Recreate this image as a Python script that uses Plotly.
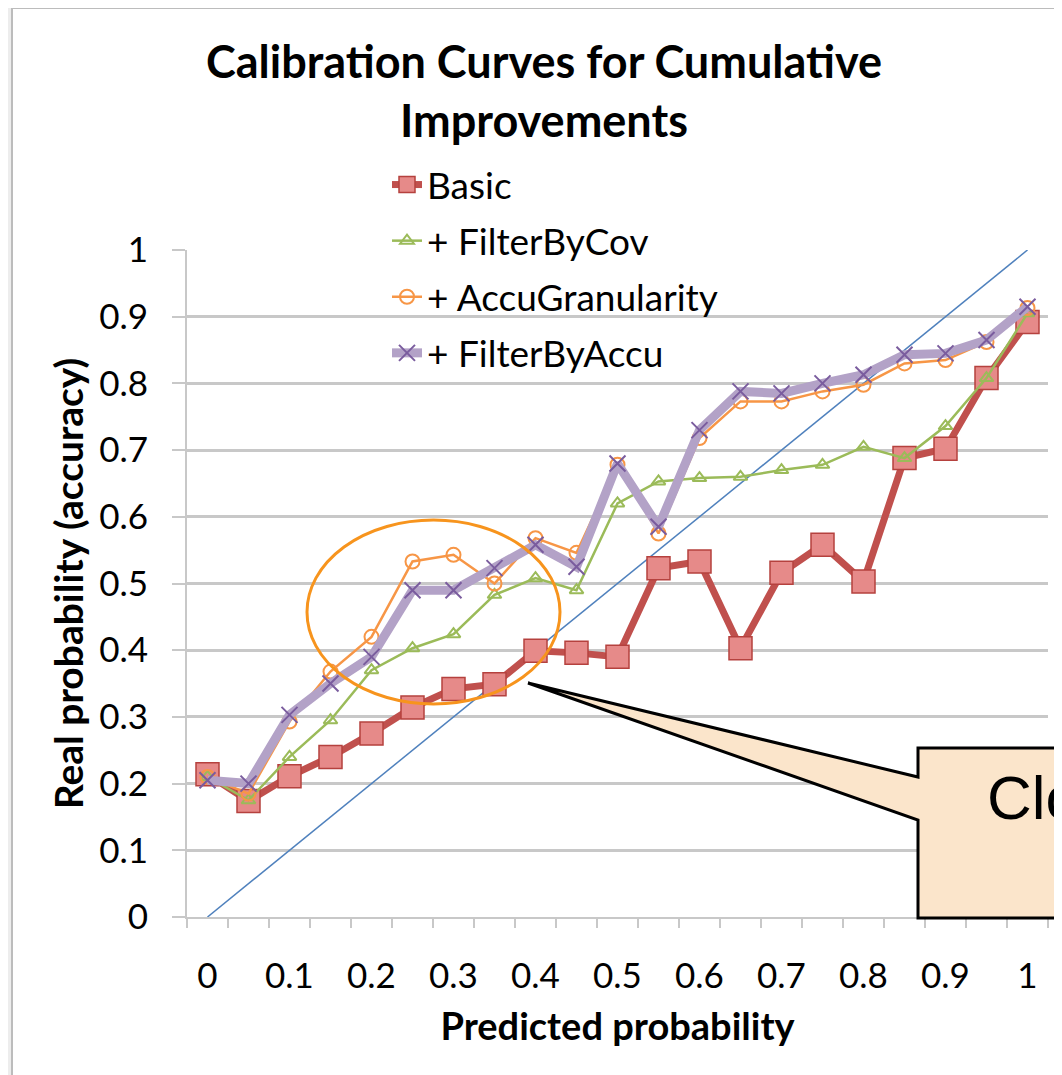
import plotly.graph_objects as go

# ── Data ────────────────────────────────────────────────────────────────────
predicted = [0.0, 0.05, 0.1, 0.15, 0.2, 0.25, 0.3, 0.35, 0.4, 0.45, 0.5,
             0.55, 0.6, 0.65, 0.7, 0.75, 0.8, 0.85, 0.9, 0.95, 1.0]

basic = [0.214, 0.174, 0.211, 0.240, 0.275, 0.314, 0.342, 0.349, 0.399, 0.396, 0.390,
         0.523, 0.533, 0.403, 0.516, 0.558, 0.503, 0.688, 0.702, 0.808, 0.892]
filter_by_cov = [0.21, 0.175, 0.240, 0.295, 0.370, 0.403, 0.424, 0.483, 0.508, 0.490, 0.620,
                 0.653, 0.658, 0.660, 0.670, 0.678, 0.705, 0.688, 0.736, 0.808, 0.905]
accu_granularity = [0.21, 0.185, 0.293, 0.368, 0.420, 0.533, 0.543, 0.500, 0.568, 0.546, 0.678,
                    0.575, 0.718, 0.773, 0.773, 0.788, 0.798, 0.830, 0.835, 0.862, 0.913]
filter_by_accu = [0.205, 0.200, 0.303, 0.350, 0.390, 0.490, 0.490, 0.523, 0.558, 0.525, 0.680,
                  0.585, 0.730, 0.788, 0.785, 0.800, 0.813, 0.843, 0.845, 0.865, 0.915]

diagonal = [0.0, 1.0]

x_tickvals = [0, 0.1, 0.2, 0.3, 0.4, 0.5, 0.6, 0.7, 0.8, 0.9, 1.0]
x_ticktext = ["0", "0.1", "0.2", "0.3", "0.4", "0.5", "0.6", "0.7", "0.8", "0.9", "1"]
y_tickvals = [0, 0.1, 0.2, 0.3, 0.4, 0.5, 0.6, 0.7, 0.8, 0.9, 1.0]
y_ticktext = ["0", "0.1", "0.2", "0.3", "0.4", "0.5", "0.6", "0.7", "0.8", "0.9", "1"]

# ── Layout geometry ─────────────────────────────────────────────────────────
# the page body adds an 8px margin, so the figure is shrunk to fit the window
OFF = 8
W, H = 1062 - OFF, 1075 - OFF
L, T = 187 - OFF, 250 - OFF
R = W - (1048 - OFF)
B = H - (917 - OFF)
PW, PH = W - L - R, H - T - B


def px(s):
    """screen x (pixels) -> paper x"""
    return (s - OFF - L) / PW


def py(s):
    """screen y (pixels) -> paper y"""
    return (H - B - (s - OFF)) / PH


GRID = "#c8c8c8"
FONT = "Lato, 'Open Sans', sans-serif"

fig = go.Figure()

fig.add_trace(go.Scatter(
    x=diagonal, y=diagonal, mode="lines", showlegend=False,
    line=dict(color="#4f81bd", width=1.5), hoverinfo="skip",
))
fig.add_trace(go.Scatter(
    x=predicted, y=basic, name="Basic", mode="lines+markers",
    legendgroup="a",
    line=dict(color="#c0504d", width=7),
    marker=dict(symbol="square", size=23, color="#e68a89",
                line=dict(color="#b5413e", width=1.5)),
))
fig.add_trace(go.Scatter(
    x=predicted, y=filter_by_cov, name="+ FilterByCov", mode="lines+markers",
    legendgroup="b",
    line=dict(color="#9bbb59", width=2.5),
    marker=dict(symbol="triangle-up-open", size=12, color="#9bbb59",
                line=dict(width=2)),
))
fig.add_trace(go.Scatter(
    x=predicted, y=accu_granularity, name="+ AccuGranularity", mode="lines+markers",
    legendgroup="c",
    line=dict(color="#f79646", width=2.5),
    marker=dict(symbol="circle-open", size=14, color="#f79646",
                line=dict(width=2)),
))
fig.add_trace(go.Scatter(
    x=predicted, y=filter_by_accu, name="+ FilterByAccu", mode="lines+markers",
    legendgroup="d",
    line=dict(color="#b3a2c7", width=9),
    marker=dict(symbol="x-thin-open", size=16, color="#7a5c9e",
                line=dict(width=2)),
))

shapes = [
    # spreadsheet-like frame around the chart
    dict(type="rect", xref="paper", yref="paper", layer="below",
         x0=px(0), x1=px(1100), y0=py(1100), y1=py(0),
         fillcolor="#ededed", line=dict(width=0)),
    dict(type="rect", xref="paper", yref="paper", layer="below",
         x0=px(12), x1=px(1100), y0=py(1100), y1=py(8),
         fillcolor="white", line=dict(color="#bcbcbc", width=2)),
    # orange ellipse highlight
    dict(type="circle", xref="paper", yref="paper", layer="above",
         x0=px(307), x1=px(560), y0=py(704), y1=py(520),
         line=dict(color="#f7941d", width=3)),
    # callout box
    dict(type="path", xref="paper", yref="paper", layer="above",
         path=(f"M {px(528)},{py(683)} L {px(918)},{py(777)} L {px(918)},{py(748)} "
               f"L {px(1100)},{py(748)} L {px(1100)},{py(918)} L {px(918)},{py(918)} "
               f"L {px(918)},{py(820)} Z"),
         fillcolor="#fbe5cb", line=dict(color="black", width=3)),
]

annotations = [
    dict(xref="paper", yref="paper", x=px(985), y=py(797),
         xanchor="left", yanchor="middle", showarrow=False,
         text="Clo", font=dict(family="'Liberation Sans', Arial", size=62, color="black")),
]

fig.update_layout(
    width=W, height=H,
    margin=dict(l=L, r=R, t=T, b=B),
    paper_bgcolor="white",
    plot_bgcolor="rgba(0,0,0,0)",
    font=dict(family=FONT, color="black"),
    title=dict(text="<b>Calibration Curves for Cumulative<br>Improvements</b>",
               x=(544 - OFF) / W, xanchor="center", y=1 - 70 / H, yanchor="top",
               font=dict(size=45, family=FONT, color="black")),
    xaxis=dict(
        range=[-0.025, 1.025], showgrid=False, zeroline=False, automargin=False,
        showline=True, linecolor=GRID, linewidth=2,
        tickmode="array", tickvals=x_tickvals, ticktext=x_ticktext,
        ticks="", ticklabelstandoff=27, tickfont=dict(size=35),
        minor=dict(tick0=-0.025, dtick=0.05, ticks="outside", ticklen=9,
                   tickcolor=GRID, tickwidth=2, showgrid=False),
        title=dict(text="<b>Predicted probability</b>", font=dict(size=38), standoff=19),
    ),
    yaxis=dict(
        range=[0, 1], showgrid=True, gridcolor=GRID, gridwidth=2.5, zeroline=False,
        automargin=False,
        showline=True, linecolor=GRID, linewidth=2,
        tickmode="array", tickvals=y_tickvals, ticktext=y_ticktext,
        ticks="outside", ticklen=13, tickcolor=GRID, tickwidth=2,
        ticklabelstandoff=17, tickfont=dict(size=35),
        title=dict(text="<b>Real probability (accuracy)</b>", font=dict(size=39), standoff=3),
    ),
    legend=dict(x=px(387), xanchor="left", y=py(154), yanchor="top",
                bgcolor="rgba(0,0,0,0)", font=dict(size=37),
                tracegroupgap=5, traceorder="grouped"),
    shapes=shapes,
    annotations=annotations,
)

fig.write_html("out.html")
